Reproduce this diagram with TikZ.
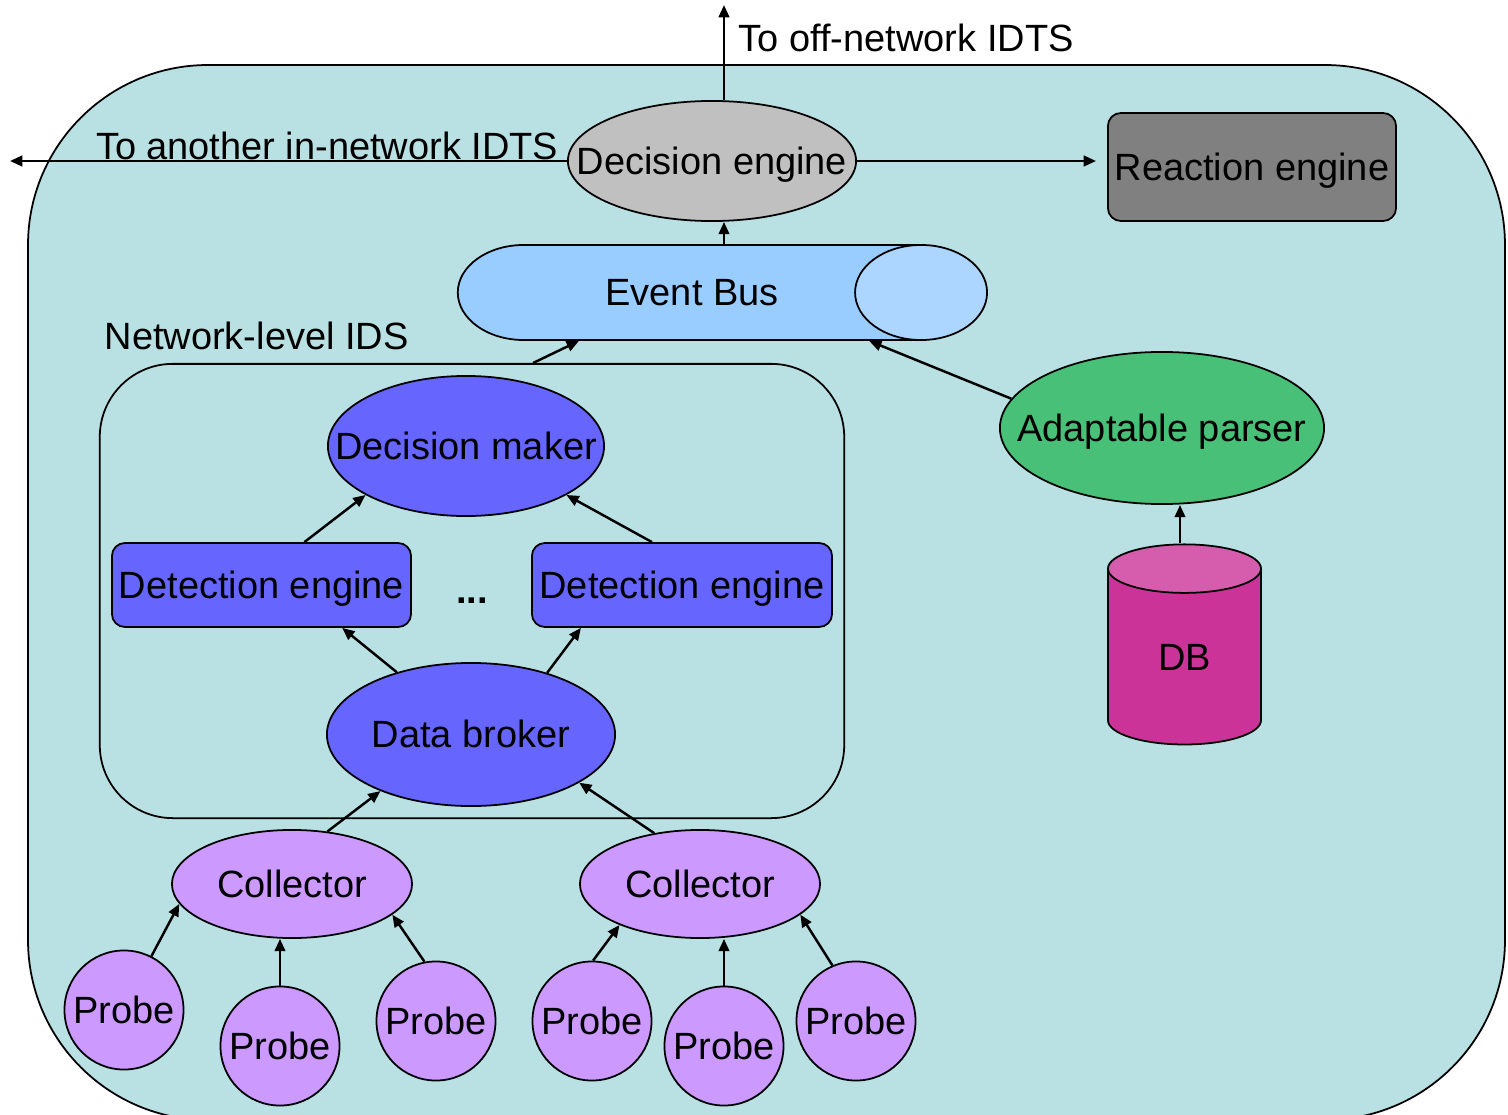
\documentclass[tikz,border=0pt]{standalone}
\usepackage{fontspec}
\setmainfont{Liberation Sans}
\usetikzlibrary{arrows.meta,shapes.geometric}
\definecolor{panel}{RGB}{185,224,226}
\definecolor{engine}{RGB}{192,192,192}
\definecolor{reaction}{RGB}{128,128,128}
\definecolor{busbody}{RGB}{153,204,255}
\definecolor{busend}{RGB}{172,214,255}
\definecolor{idsblue}{RGB}{102,102,255}
\definecolor{lilac}{RGB}{204,153,255}
\definecolor{parsergreen}{RGB}{73,192,120}
\definecolor{dbbody}{RGB}{204,51,153}
\definecolor{dbtop}{RGB}{214,92,173}
\newcommand\flattext[1]{\makebox[0pt]{#1}}
\begin{document}
\begin{tikzpicture}[x=0.01cm,y=-0.01cm,
    font=\fontsize{10.8}{13}\selectfont,
    every node/.style={inner sep=0pt,text height=9.8pt,text depth=2.3pt},
    blob/.style={ellipse,draw,line width=0.5pt},
    box/.style={rectangle,draw,line width=0.5pt,rounded corners=0.13cm},
    probe/.style={circle,draw,line width=0.5pt,fill=lilac,minimum size=1.19cm}]
    \clip (0,0) rectangle (1508,1115);
    \draw[fill=panel,line width=0.5pt,rounded corners=1.8cm] (28,65) rectangle (1505,1120);
    \node[blob,fill=engine,minimum width=2.88cm,minimum height=1.2cm] (dec) at (712,161) {\flattext{Decision engine}};
    \node[box,fill=reaction,minimum width=2.88cm,minimum height=1.08cm] (react) at (1252,167) {Reaction engine};
    \node[cylinder,draw,line width=0.5pt,inner ysep=0.262cm,aspect=1.39,minimum height=5.29cm,minimum width=0.95cm,
      cylinder uses custom fill,cylinder body fill=busbody,cylinder end fill=busend] (bus) at (659.5,292.5) {\flattext{\hspace{0.65cm}Event Bus}};
    \node[anchor=west] (netlabel) at (104,336) {Network-level IDS};
    \node[box,rounded corners=0.73cm,minimum width=7.44cm,minimum height=4.54cm] (net) at (472,591) {};
    \node[blob,fill=idsblue,minimum width=2.76cm,minimum height=1.4cm] (maker) at (466,446) {\flattext{Decision maker}};
    \node[box,fill=idsblue,minimum width=2.99cm,minimum height=0.84cm] (det1) at (261.5,585) {Detection engine};
    \node[box,fill=idsblue,minimum width=3cm,minimum height=0.84cm] (det2) at (682,585) {Detection engine};
    \node (dots) at (472,590) {\textbf{...}};
    \node[blob,fill=idsblue,minimum width=2.88cm,minimum height=1.43cm] (broker) at (471,734.5) {\flattext{Data broker}};
    \node[blob,fill=lilac,minimum width=2.4cm,minimum height=1.08cm] (coll1) at (292,884) {\flattext{Collector}};
    \node[blob,fill=lilac,minimum width=2.4cm,minimum height=1.08cm] (coll2) at (700,884) {\flattext{Collector}};
    \node[probe] (p1) at (124,1010) {Probe};
    \node[probe] (p2) at (280,1046) {Probe};
    \node[probe] (p3) at (436,1021) {Probe};
    \node[probe] (p4) at (592,1021) {Probe};
    \node[probe] (p5) at (724,1046) {Probe};
    \node[probe] (p6) at (856,1021) {Probe};
    \node[blob,fill=parsergreen,minimum width=3.24cm,minimum height=1.52cm] (parser) at (1162,428) {\flattext{Adaptable parser}};
    \node[cylinder,shape border rotate=90,draw,line width=0.5pt,aspect=0.92,minimum height=2cm,minimum width=1.53cm,
      cylinder uses custom fill,cylinder body fill=dbbody,cylinder end fill=dbtop] (db) at (1184.5,657) {DB};
    \node[anchor=west] (offlabel) at (738,38) {To off-network IDTS};
    \node[anchor=east] (inlabel) at (559,146) {To another in-network IDTS};
    \coordinate (offnet) at (724,5);
    \coordinate (innet) at (10,161);
    \begin{scope}[-{Triangle[length=3.5pt,width=3pt]},line width=0.7pt]
      \draw (dec.north -| offnet) to (offnet);
      \draw (dec.west) to (innet);
      \draw[shorten >=0.11cm] (dec.east) to (dec.east -| react.west);
      \draw (bus.north -| offnet) to (dec.south -| offnet);
      \draw (net.75) to (bus.211);
      \draw (parser.169) to (bus.347);
      \draw (db.north -| 1180,0) to (parser.south -| 1180,0);
      \draw (det1.45) to (maker.206);
      \draw (det2.125) to (maker.334);
      \draw (broker.140) to (det1.332);
      \draw (broker.39) to (det2.203);
      \draw (coll1.56) to (broker.212);
      \draw (coll2.132) to (broker.336);
      \draw (p1.63) to (coll1.190);
      \draw (p2.north) to (p2.north |- coll1.south);
      \draw (p3.101) to (coll1.343);
      \draw (p4.89) to (coll2.207);
      \draw (p5.north) to (p5.north |- coll2.south);
      \draw (p6.113) to (coll2.343);
    \end{scope}
\end{tikzpicture}
\end{document}
